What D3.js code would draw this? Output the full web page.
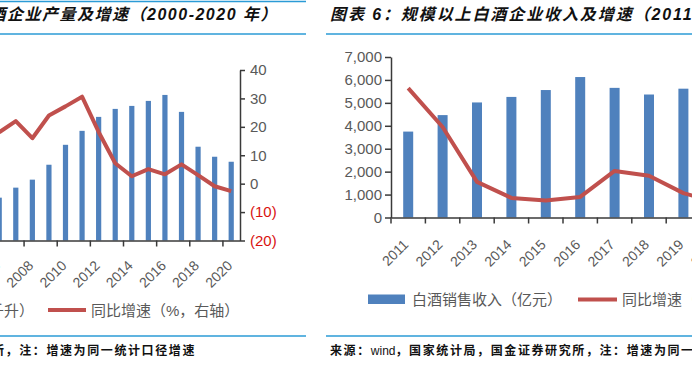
<!DOCTYPE html>
<html>
<head>
<meta charset="utf-8">
<script src="https://cdn.jsdelivr.net/npm/d3@7"></script>
<style>
  body { margin: 0; background: #fff; }
  svg { display: block; }
</style>
</head>
<body>
<svg id="chart" width="692" height="365"></svg>
<script>
// left panel: baijiu output (bars, 千升) and yoy growth (line, %, right axis)
const outCats = ["2000","2001","2002","2003","2004","2005","2006","2007","2008","2009","2010",
  "2011","2012","2013","2014","2015","2016","2017","2018","2019","2020"];
const outYears = ["2006","2007","2008","2009","2010","2011","2012","2013","2014","2015","2016","2017","2018","2019","2020"];
const outVolume = [4020000, 4960000, 5710000, 7110000, 8980000, 10290000, 11600000, 12350000,
  12630000, 13100000, 13660000, 12070000, 8800000, 7860000, 7390000];
const outGrowth = [18.1, 22.0, 16.0, 24.0, 27.2, 30.6, 18.2, 7.2, 2.6, 5.1, 3.3, 6.8, 3.0, -0.9, -2.6];
const outGrowthTicks = [40, 30, 20, 10, 0, -10, -20];
const outLabelYears = ["2000","2002","2004","2006","2008","2010","2012","2014","2016","2018","2020"];

// right panel: baijiu revenue (bars, 亿元) and yoy growth (line)
const revYears = ["2011","2012","2013","2014","2015","2016","2017","2018","2019","2020"];
const revenue = [3747, 4466, 5018, 5259, 5559, 6126, 5654, 5364, 5618, 5836];
const revGrowth = [40.3, 28.2, 11.1, 6.1, 5.3, 6.4, 14.5, 13.0, 7.6, 4.6];
const revTicks = [0, 1000, 2000, 3000, 4000, 5000, 6000, 7000];

const BLUE = "#4F81BD", RED = "#C0504D", RULE = "#2B9BD6", GREY = "#595959", AXIS = "#3a3a3a";
const NUM = "'Liberation Sans', Arial, sans-serif";
const CJK = "'Liberation Sans', 'Noto Sans CJK SC', sans-serif";

const svg = d3.select("#chart");
svg.append("rect").attr("width", 692).attr("height", 365).attr("fill", "#fff");

// page rules and headings
const rules = [
  { x1: -300, x2: 306, y: 1.5 }, { x1: -300, x2: 306, y: 34 }, { x1: -300, x2: 306, y: 336 },
  { x1: 326, x2: 700, y: 34 }, { x1: 326, x2: 700, y: 336 }
];
svg.selectAll("line.rule").data(rules).join("line")
  .attr("class", "rule")
  .attr("x1", d => d.x1).attr("x2", d => d.x2).attr("y1", d => d.y).attr("y2", d => d.y)
  .attr("stroke", RULE).attr("stroke-width", 1.6);

const title = (x, anchor, spacing, txt) => svg.append("text")
  .attr("x", x).attr("y", 20).attr("text-anchor", anchor)
  .style("font-family", CJK).style("font-size", "16px").style("font-weight", "bold")
  .style("font-style", "italic").style("letter-spacing", spacing).attr("fill", "#111")
  .text(txt);
title(278, "end", "1.5px", "图表 5：规模以上白酒企业产量及增速（2000-2020 年）");
title(330, "start", "1.9px", "图表 6：规模以上白酒企业收入及增速（2011-2020 年）");

const src = (x, anchor) => {
  const t = svg.append("text")
    .attr("x", x).attr("y", 355).attr("text-anchor", anchor)
    .style("font-family", CJK).style("font-size", "12px").style("font-weight", "bold")
    .style("letter-spacing", "1.6px").attr("fill", "#111");
  t.append("tspan").text("来源：");
  t.append("tspan").style("font-weight", "normal").style("letter-spacing", "0px").text("wind");
  t.append("tspan").text("，国家统计局，国金证券研究所，注：增速为同一统计口径增速");
};
src(196, "end");
src(330, "start");

// ---------- left chart ----------
{
  const x = d3.scaleBand().domain(outCats).range([-108.5, 239.5]);
  const yV = d3.scaleLinear().domain([0, 16000000]).range([240.5, 70]);
  const yG = d3.scaleLinear().domain([-20, 40]).range([240.5, 70]);
  const bw = x.bandwidth();
  const g = svg.append("g");

  g.selectAll("rect.bar").data(outYears).join("rect")
    .attr("class", "bar")
    .attr("x", (d) => x(d) + bw / 2 - 2.6).attr("width", 5.2)
    .attr("y", (d, i) => yV(outVolume[i])).attr("height", (d, i) => yV(0) - yV(outVolume[i]))
    .attr("fill", BLUE);

  g.append("path").datum(outYears)
    .attr("fill", "none").attr("stroke", RED).attr("stroke-width", 4).attr("stroke-linejoin", "round")
    .attr("d", d3.line().x(d => x(d) + bw / 2).y((d, i) => yG(outGrowth[i])));

  const xa = g.append("g").attr("transform", "translate(0,240.5)")
    .call(d3.axisBottom(x).tickValues(outLabelYears).tickSize(0).tickSizeOuter(0));
  xa.select(".domain").attr("stroke", AXIS).attr("stroke-width", 1.5);
  xa.selectAll("text")
    .attr("x", 0).attr("y", 0).attr("dy", 0)
    .attr("text-anchor", "end").attr("transform", "translate(2,26) rotate(-45)")
    .attr("fill", GREY).style("font-family", NUM).style("font-size", "14px");
  xa.selectAll("g.tick").append("line")
    .attr("x1", -bw / 2).attr("x2", -bw / 2).attr("y1", 0).attr("y2", 6)
    .attr("stroke", AXIS).attr("stroke-width", 1.5);

  const ya = g.append("g").attr("transform", "translate(240,0)")
    .call(d3.axisRight(yG).tickValues(outGrowthTicks).tickSize(5).tickPadding(5).tickSizeOuter(0)
      .tickFormat(d => d < 0 ? `(${-d})` : d));
  ya.select(".domain").attr("stroke", AXIS).attr("stroke-width", 1.5);
  ya.selectAll("line").attr("stroke", AXIS).attr("stroke-width", 1.5);
  ya.selectAll("text")
    .attr("fill", d => d < 0 ? "#D9120F" : GREY)
    .style("font-family", NUM).style("font-size", "15px");

  // legend
  svg.append("text").attr("x", 34).attr("y", 315.5).attr("text-anchor", "end")
    .style("font-family", CJK).style("font-size", "15px").attr("fill", GREY)
    .text("白酒产量（千升）");
  svg.append("line").attr("x1", 48).attr("x2", 86).attr("y1", 310).attr("y2", 310)
    .attr("stroke", RED).attr("stroke-width", 4);
  svg.append("text").attr("x", 91).attr("y", 315.5)
    .style("font-family", CJK).style("font-size", "15px").attr("fill", GREY)
    .text("同比增速（%，右轴）");
}

// ---------- right chart ----------
{
  const x = d3.scaleBand().domain(revYears).range([391, 391 + 344]);
  const yR = d3.scaleLinear().domain([0, 7000]).range([217.5, 57]);
  const yG = d3.scaleLinear().domain([0, 50]).range([217.5, 57]);
  const bw = x.bandwidth();
  const g = svg.append("g");

  g.selectAll("rect.bar").data(revYears).join("rect")
    .attr("class", "bar")
    .attr("x", d => x(d) + bw / 2 - 5).attr("width", 10)
    .attr("y", (d, i) => yR(revenue[i])).attr("height", (d, i) => yR(0) - yR(revenue[i]))
    .attr("fill", BLUE);

  g.append("path").datum(revYears)
    .attr("fill", "none").attr("stroke", RED).attr("stroke-width", 4).attr("stroke-linejoin", "round")
    .attr("d", d3.line().x(d => x(d) + bw / 2).y((d, i) => yG(revGrowth[i])));

  const xa = g.append("g").attr("transform", "translate(0,217.5)")
    .call(d3.axisBottom(x).tickSize(0).tickSizeOuter(0));
  xa.select(".domain").attr("stroke", AXIS).attr("stroke-width", 1.5);
  xa.selectAll("text")
    .attr("x", 0).attr("y", 0).attr("dy", 0)
    .attr("text-anchor", "end").attr("transform", "translate(1,28) rotate(-45)")
    .attr("fill", GREY).style("font-family", NUM).style("font-size", "14px");
  xa.selectAll("g.tick").append("line")
    .attr("x1", -bw / 2).attr("x2", -bw / 2).attr("y1", 0).attr("y2", 6)
    .attr("stroke", AXIS).attr("stroke-width", 1.5);

  const ya = g.append("g").attr("transform", "translate(391,0)")
    .call(d3.axisLeft(yR).tickValues(revTicks).tickSize(6).tickPadding(3).tickSizeOuter(0)
      .tickFormat(d3.format(",")));
  ya.select(".domain").attr("stroke", AXIS).attr("stroke-width", 1.5);
  ya.selectAll("line").attr("stroke", AXIS).attr("stroke-width", 1.5);
  ya.selectAll("text").attr("fill", GREY)
    .style("font-family", NUM).style("font-size", "15px");

  // legend
  svg.append("rect").attr("x", 368).attr("y", 294.5).attr("width", 37).attr("height", 9.5).attr("fill", BLUE);
  svg.append("text").attr("x", 412).attr("y", 305)
    .style("font-family", CJK).style("font-size", "15px").attr("fill", GREY)
    .text("白酒销售收入（亿元）");
  svg.append("line").attr("x1", 578).attr("x2", 617).attr("y1", 299.5).attr("y2", 299.5)
    .attr("stroke", RED).attr("stroke-width", 4);
  svg.append("text").attr("x", 622).attr("y", 305)
    .style("font-family", CJK).style("font-size", "15px").attr("fill", GREY)
    .text("同比增速（%，右轴）");
}
</script>
</body>
</html>
